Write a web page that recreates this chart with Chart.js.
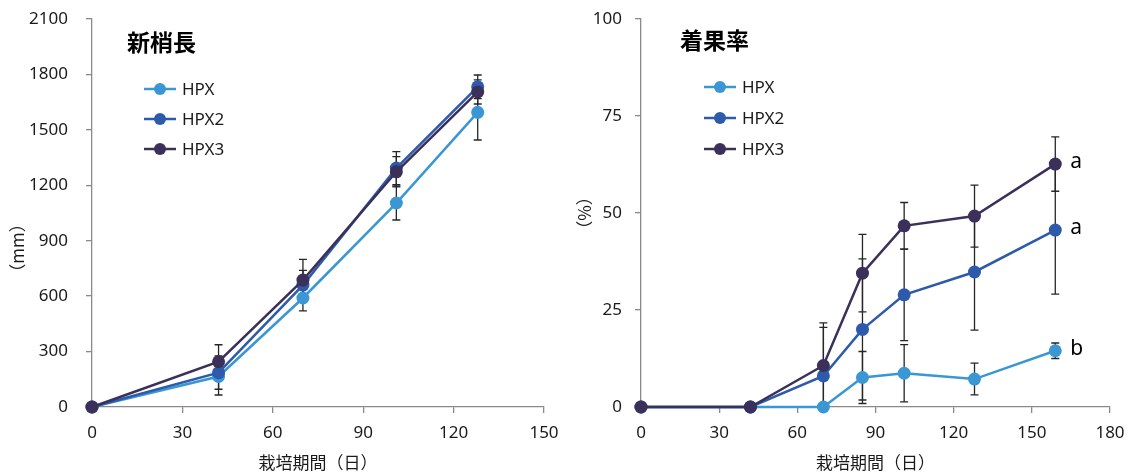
<!DOCTYPE html>
<html lang="ja">
<head>
<meta charset="utf-8">
<title>新梢長・着果率</title>
<script src="https://cdn.jsdelivr.net/npm/chart.js@4.4.1/dist/chart.umd.min.js"></script>
<style>
  html, body { margin: 0; padding: 0; background: #fff; }
  .wrap { display: flex; width: 1134px; height: 473px; }
  canvas { display: block; }
</style>
</head>
<body>
<div class="wrap">
  <canvas id="shootChart" width="560" height="473"></canvas>
  <canvas id="fruitChart" width="574" height="473"></canvas>
</div>
<script>
// 系列名と色
const seriesNames = ["HPX", "HPX2", "HPX3"];
const seriesColors = ["#3b96d4", "#2d5aab", "#3a3059"];

// 新梢長 (mm)
const shootDays = [0, 42, 70, 101, 128];
const shootHPX = [0, 165, 590, 1104, 1595];
const shootHPX2 = [0, 186, 660, 1293, 1733];
const shootHPX3 = [0, 245, 687, 1273, 1705];
const shootErrHPX = [0, 100, 70, 92, 150];
const shootErrHPX2 = [0, 90, 80, 89, 64];
const shootErrHPX3 = [0, 92, 112, 82, 65];
const shootTicksX = [0, 30, 60, 90, 120, 150];
const shootTicksY = [0, 300, 600, 900, 1200, 1500, 1800, 2100];

// 着果率 (%)
const fruitDays = [0, 42, 70, 85, 101, 128, 159];
const fruitHPX = [0, 0, 0, 7.6, 8.7, 7.2, 14.5];
const fruitHPX2 = [0, 0, 8.0, 20.0, 28.9, 34.8, 45.6];
const fruitHPX3 = [0, 0, 10.7, 34.5, 46.7, 49.2, 62.6];
const fruitErrHPX = [0, 0, 0, 6.7, 7.4, 4.1, 2];
const fruitErrHPX2 = [0, 0, 12.5, 18.2, 11.8, 15, 16.5];
const fruitErrHPX3 = [0, 0, 11, 10, 6, 8, 7];
const fruitLetters = ["b", "a", "a"];
const fruitTicksX = [0, 30, 60, 90, 120, 150, 180];
const fruitTicksY = [0, 25, 50, 75, 100];

const latinFont = "'Noto Sans', 'Liberation Sans', sans-serif";
const jpFont = "'Noto Sans CJK JP', 'Noto Sans', sans-serif";
const axisColor = "#8a8a8a";
const textColor = "#1a1a1a";

// エラーバー(データ点の後ろに描く)
const errorBarPlugin = {
  id: "errorBars",
  beforeDatasetsDraw(chart) {
    const { ctx, chartArea, scales } = chart;
    ctx.save();
    ctx.beginPath();
    ctx.rect(chartArea.left, chartArea.top, chartArea.width, chartArea.height);
    ctx.clip();
    ctx.strokeStyle = "#262626";
    ctx.lineWidth = 1.3;
    chart.data.datasets.forEach(ds => {
      if (!ds.errors) return;
      ds.data.forEach((p, i) => {
        const e = ds.errors[i];
        if (!e) return;
        const x = scales.x.getPixelForValue(p.x);
        const yTop = scales.y.getPixelForValue(p.y + e);
        const yBot = scales.y.getPixelForValue(p.y - e);
        ctx.beginPath();
        ctx.moveTo(x, yTop); ctx.lineTo(x, yBot);
        ctx.moveTo(x - 4, yTop); ctx.lineTo(x + 4, yTop);
        ctx.moveTo(x - 4, yBot); ctx.lineTo(x + 4, yBot);
        ctx.stroke();
      });
    });
    ctx.restore();
  }
};

// グラフ内タイトル・凡例・縦軸タイトル・有意差記号
const panelPlugin = {
  id: "panel",
  afterDatasetsDraw(chart, args, o) {
    const { ctx, chartArea } = chart;
    ctx.save();
    // タイトル
    ctx.fillStyle = "#000";
    ctx.font = "bold 23px " + jpFont;
    ctx.textAlign = "left";
    ctx.textBaseline = "middle";
    ctx.fillText(o.title, chartArea.left + o.titleX, o.titleY);

    // 凡例
    chart.data.datasets.forEach((ds, i) => {
      const x0 = chartArea.left + o.legendX;
      const y = o.legendY + i * o.legendGap;
      ctx.strokeStyle = ds.borderColor;
      ctx.lineWidth = 2.5;
      ctx.beginPath();
      ctx.moveTo(x0, y); ctx.lineTo(x0 + 32, y);
      ctx.stroke();
      ctx.fillStyle = ds.borderColor;
      ctx.beginPath();
      ctx.arc(x0 + 16, y, 6, 0, Math.PI * 2);
      ctx.fill();
      ctx.fillStyle = textColor;
      ctx.font = "17px " + latinFont;
      ctx.fillText(ds.label, x0 + 38, y + 1);
    });

    // 縦軸タイトル
    ctx.save();
    ctx.translate(o.yTitleX, o.yTitleY);
    ctx.rotate(-Math.PI / 2);
    ctx.textAlign = "center";
    ctx.fillStyle = textColor;
    ctx.font = "17px " + jpFont;
    ctx.fillText(o.yTitle, 0, 0);
    ctx.restore();

    // 有意差記号
    if (o.letters) {
      ctx.font = "21px " + latinFont;
      ctx.fillStyle = "#000";
      chart.data.datasets.forEach((ds, i) => {
        const pts = chart.getDatasetMeta(i).data;
        const last = pts[pts.length - 1];
        ctx.fillText(o.letters[i], last.x + 15, last.y - 2);
      });
    }
    ctx.restore();
  }
};

function makeDatasets(days, seriesList, errList) {
  return seriesList.map((vals, i) => ({
    label: seriesNames[i],
    data: days.map((d, j) => ({ x: d, y: vals[j] })),
    errors: errList[i],
    borderColor: seriesColors[i],
    backgroundColor: seriesColors[i],
    pointBackgroundColor: seriesColors[i],
    borderWidth: 2.5,
    pointRadius: 6.5,
    pointBorderWidth: 0,
    tension: 0,
    clip: false,
    order: seriesList.length - 1 - i
  }));
}

// 軸ラベルのはみ出し分は layout.padding で決めるので 0 にする
function noScalePadding(s) {
  s.paddingTop = 0; s.paddingBottom = 0; s.paddingLeft = 0; s.paddingRight = 0;
}

function makeScales(xTicks, yTicks, yWidth, tickPad) {
  return {
    x: {
      type: "linear",
      min: xTicks[0],
      max: xTicks[xTicks.length - 1],
      afterBuildTicks: s => { s.ticks = xTicks.map(v => ({ value: v })); },
      afterFit: s => { s.height = 66; noScalePadding(s); },
      grid: { drawOnChartArea: false, tickLength: 6, color: axisColor, lineWidth: 1.3 },
      border: { color: axisColor, width: 1.3 },
      ticks: { font: { family: latinFont, size: 17 }, color: textColor, padding: 10, maxRotation: 0, autoSkip: false, callback: v => String(v) },
      title: { display: true, text: "栽培期間（日）", font: { family: jpFont, size: 17 }, color: textColor, padding: 0 }
    },
    y: {
      type: "linear",
      min: yTicks[0],
      max: yTicks[yTicks.length - 1],
      afterBuildTicks: s => { s.ticks = yTicks.map(v => ({ value: v })); },
      afterFit: s => { s.width = yWidth; noScalePadding(s); },
      grid: { drawOnChartArea: false, tickLength: 6, color: axisColor, lineWidth: 1.3 },
      border: { color: axisColor, width: 1.3 },
      ticks: { font: { family: latinFont, size: 17 }, color: textColor, padding: tickPad, autoSkip: false, callback: v => String(v) }
    }
  };
}

new Chart(document.getElementById("shootChart").getContext("2d"), {
  type: "line",
  data: {
    datasets: makeDatasets(shootDays, [shootHPX, shootHPX2, shootHPX3], [shootErrHPX, shootErrHPX2, shootErrHPX3])
  },
  options: {
    responsive: false,
    animation: false,
    events: [],
    layout: { padding: { top: 19, right: 16, bottom: 0, left: 0 } },
    scales: makeScales(shootTicksX, shootTicksY, 92, 18),
    plugins: {
      legend: { display: false },
      tooltip: { enabled: false },
      panel: {
        title: "新梢長", titleX: 35, titleY: 42,
        legendX: 52, legendY: 89, legendGap: 30,
        yTitle: "（mm）", yTitleX: 18, yTitleY: 248
      }
    }
  },
  plugins: [errorBarPlugin, panelPlugin]
});

new Chart(document.getElementById("fruitChart").getContext("2d"), {
  type: "line",
  data: {
    datasets: makeDatasets(fruitDays, [fruitHPX, fruitHPX2, fruitHPX3], [fruitErrHPX, fruitErrHPX2, fruitErrHPX3])
  },
  options: {
    responsive: false,
    animation: false,
    events: [],
    layout: { padding: { top: 19, right: 24, bottom: 0, left: 0 } },
    scales: makeScales(fruitTicksX, fruitTicksY, 81, 13),
    plugins: {
      legend: { display: false },
      tooltip: { enabled: false },
      panel: {
        title: "着果率", titleX: 39, titleY: 40,
        legendX: 63, legendY: 87, legendGap: 31,
        yTitle: "（%）", yTitleX: 25, yTitleY: 213,
        letters: fruitLetters
      }
    }
  },
  plugins: [errorBarPlugin, panelPlugin]
});
</script>
</body>
</html>
